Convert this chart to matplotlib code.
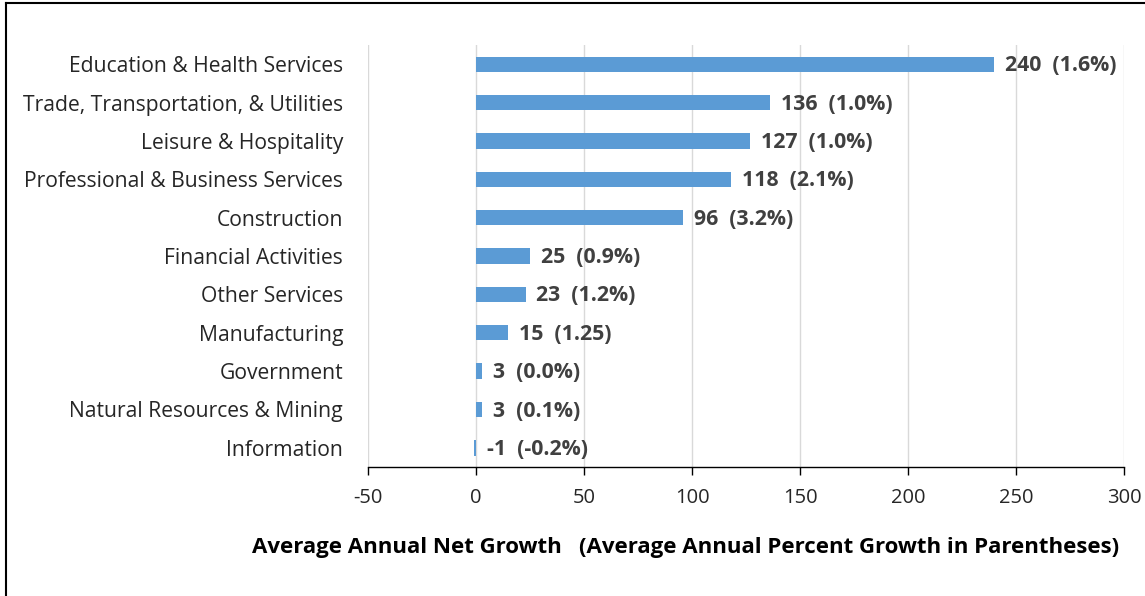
import matplotlib.pyplot as plt
import matplotlib
from matplotlib.lines import Line2D

# Chart data
categories = ['Education & Health Services', 'Trade, Transportation, & Utilities',
              'Leisure & Hospitality', 'Professional & Business Services',
              'Construction', 'Financial Activities', 'Other Services',
              'Manufacturing', 'Government', 'Natural Resources & Mining',
              'Information']
net_growth = [240, 136, 127, 118, 96, 25, 23, 15, 3, 3, -1]
pct_labels = ['(1.6%)', '(1.0%)', '(1.0%)', '(2.1%)', '(3.2%)', '(0.9%)',
              '(1.2%)', '(1.25)', '(0.0%)', '(0.1%)', '(-0.2%)']
x_ticks = [-50, 0, 50, 100, 150, 200, 250, 300]

matplotlib.rcParams['font.family'] = ['Open Sans', 'DejaVu Sans']

fig = plt.figure(figsize=(11.45, 5.96), dpi=100)
ax = fig.add_axes([0.3214, 0.2164, 0.6603, 0.7081])

y = list(range(len(categories)))[::-1]
bar_color = '#5b9bd5'
ax.barh(y, net_growth, height=0.4, color=bar_color, zorder=3)

# value labels, bold, just past the bar end
for yi, v, p in zip(y, net_growth, pct_labels):
    ax.text(max(v, 0) + 5, yi - 0.04, f'{v}  {p}', va='center', ha='left',
            fontsize=15.3, fontweight='bold', color='#404040', zorder=4)

ax.set_xlim(-50, 300)
ax.set_ylim(-0.5, len(categories) - 0.5)
ax.set_xticks(x_ticks)
ax.set_xticklabels([str(t) for t in x_ticks], fontsize=14.5, color='#262626')
ax.set_yticks(y)
ax.set_yticklabels(categories, fontsize=15.2, color='#262626')
ax.tick_params(axis='y', length=0, pad=18)
ax.tick_params(axis='x', length=6, direction='out', width=1, pad=9)
ax.grid(axis='x', color='#d9d9d9', linewidth=1, zorder=0)

for s in ['top', 'right', 'left']:
    ax.spines[s].set_visible(False)
ax.spines['bottom'].set_color('black')
ax.spines['bottom'].set_linewidth(1)

fig.text(686 / 1145, 1 - 548 / 596,
         'Average Annual Net Growth   (Average Annual Percent Growth in Parentheses)',
         ha='center', va='center', fontsize=16, fontweight='bold', color='black')

# frame lines of the original image
fig.add_artist(Line2D([6 / 1145, 6 / 1145], [0, 1 - 3 / 596], color='black', lw=1.5))
fig.add_artist(Line2D([6 / 1145, 1], [1 - 3 / 596, 1 - 3 / 596], color='black', lw=1.5))

plt.savefig('out.png', dpi=100)
